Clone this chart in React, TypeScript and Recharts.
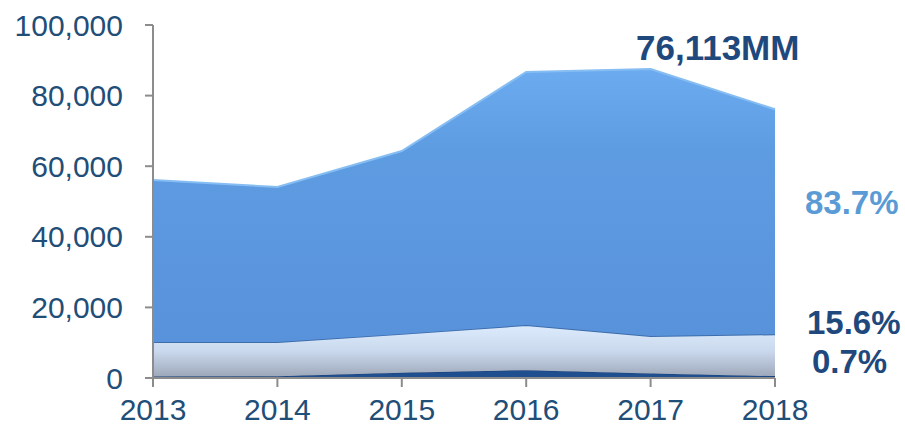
import { AreaChart, Area, XAxis, YAxis } from 'recharts'

const years = ['2013', '2014', '2015', '2016', '2017', '2018']
const darkSeg = [400, 500, 1500, 2200, 1300, 533]
const lightSeg = [9800, 9700, 11000, 12800, 10600, 11874]
const blueSeg = [45900, 43900, 51800, 71700, 75600, 63706]
const yTicks = [0, 20000, 40000, 60000, 80000, 100000]

const data = years.map((y, i) => ({
    year: y,
    dark: darkSeg[i],
    light: lightSeg[i],
    blue: blueSeg[i],
}))

const fmt = (v: number) => v.toLocaleString('en-US')

const textFont = 'Arial, "Liberation Sans", sans-serif'

function App() {
    return (
        <div style={{ position: 'absolute', left: 0, top: 0, width: 905, height: 431, background: '#fff', fontFamily: textFont }}>
            <AreaChart width={905} height={431} data={data}
                margin={{ top: 25, right: 130, left: 0, bottom: 0 }}>
                <defs>
                    <linearGradient id="blueFill" x1="0" y1="0" x2="0" y2="1">
                        <stop offset="0%" stopColor="#6cabf0" />
                        <stop offset="30%" stopColor="#5e9ce2" />
                        <stop offset="100%" stopColor="#5892da" />
                    </linearGradient>
                    <linearGradient id="lightFill" x1="0" y1="0" x2="0" y2="1">
                        <stop offset="0%" stopColor="#dcebfc" />
                        <stop offset="50%" stopColor="#cbd9ee" />
                        <stop offset="100%" stopColor="#9ea8ba" />
                    </linearGradient>
                </defs>
                <XAxis dataKey="year" interval={0} height={53} tickSize={9} tickMargin={12}
                    axisLine={{ stroke: '#8c8c8c', strokeWidth: 2 }}
                    tickLine={{ stroke: '#8c8c8c', strokeWidth: 2 }}
                    tick={{ fill: '#1f4e79', fontSize: 30, fontFamily: textFont }} />
                <YAxis domain={[0, 100000]} ticks={yTicks} width={153} tickSize={8} tickMargin={22}
                    tickFormatter={fmt}
                    axisLine={{ stroke: '#8c8c8c', strokeWidth: 2 }}
                    tickLine={{ stroke: '#8c8c8c', strokeWidth: 2 }}
                    tick={{ fill: '#1f4e79', fontSize: 30, fontFamily: textFont }} />
                <Area type="linear" dataKey="dark" stackId="a" fill="#1f4f8f" fillOpacity={1}
                    stroke="#1a3f75" strokeWidth={1} isAnimationActive={false} />
                <Area type="linear" dataKey="light" stackId="a" fill="url(#lightFill)" fillOpacity={1}
                    stroke="#3d6dab" strokeWidth={2} isAnimationActive={false} />
                <Area type="linear" dataKey="blue" stackId="a" fill="url(#blueFill)" fillOpacity={1}
                    stroke="#86bdf3" strokeWidth={2} isAnimationActive={false} />
            </AreaChart>
            <div style={{ position: 'absolute', left: 636, top: 28, fontSize: 35, fontWeight: 'bold', color: '#1f497d' }}>76,113MM</div>
            <div style={{ position: 'absolute', left: 805, top: 184, fontSize: 33, fontWeight: 'bold', color: '#5b9bd5' }}>83.7%</div>
            <div style={{ position: 'absolute', left: 807, top: 304, fontSize: 33, fontWeight: 'bold', color: '#1f497d' }}>15.6%</div>
            <div style={{ position: 'absolute', left: 812, top: 343, fontSize: 33, fontWeight: 'bold', color: '#1f497d' }}>0.7%</div>
        </div>
    )
}

export default App
